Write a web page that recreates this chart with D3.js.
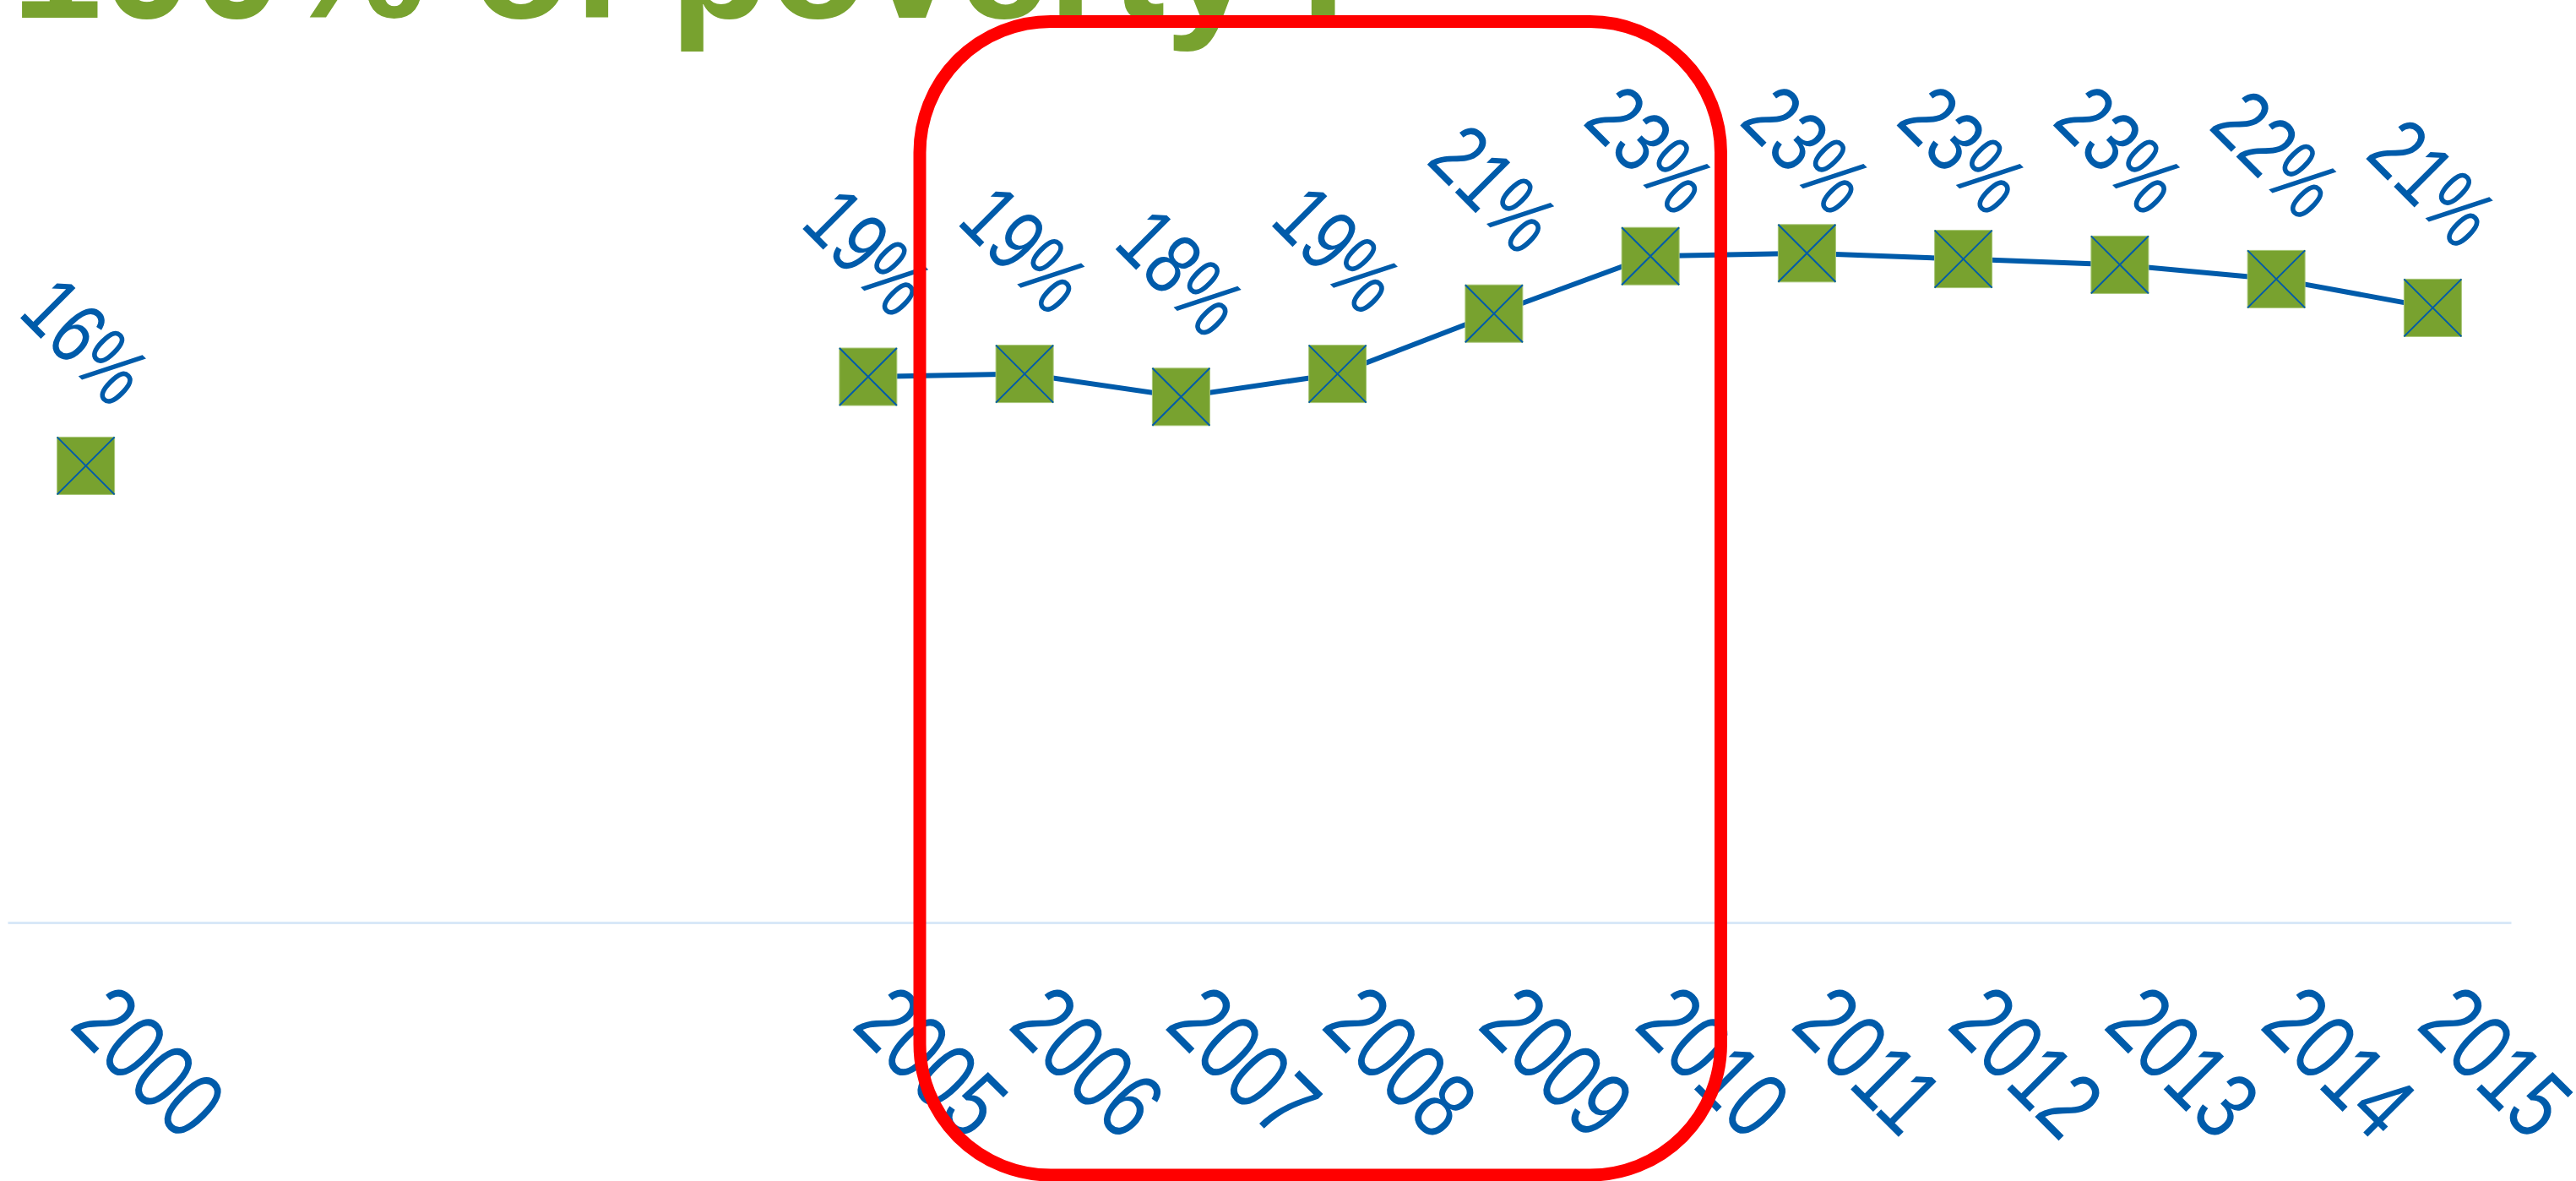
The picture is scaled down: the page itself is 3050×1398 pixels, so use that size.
<!DOCTYPE html>
<html>
<head>
<meta charset="utf-8">
<script src="https://cdn.jsdelivr.net/npm/d3@7"></script>
<style>
  html, body { margin: 0; padding: 0; background: #fff; overflow: hidden; }
  svg { display: block; }
</style>
</head>
<body>
<svg id="chart" width="3050" height="1398"></svg>
<script>
// data (share below 100% of poverty)
const years = [2000, 2001, 2002, 2003, 2004, 2005, 2006, 2007, 2008, 2009, 2010, 2011, 2012, 2013, 2014, 2015];
const rates = [0.159, null, null, null, null, 0.190, 0.191, 0.183, 0.191, 0.212, 0.232, 0.233, 0.231, 0.229, 0.224, 0.214];
const titleText = '100% of poverty I';
const highlightYears = [2005.33, 2010.45];

const option = {
  plot: {left: 9, right: 2973, top: 72, bottom: 1092},
  blue: '#005BAA',
  green: '#78A22F',
  labelTop: 98,
  textStretch: 'scale(0.94, 1.22)'
};

const points = years.map((year, i) => ({year: year, value: rates[i]}));
const known = points.filter(p => p.value != null);

const svg = d3.select('#chart');

const xScale = d3.scaleLinear()
  .domain([d3.min(years) - 0.5, d3.max(years) + 0.5])
  .range([option.plot.left, option.plot.right]);
const yScale = d3.scaleLinear()
  .domain([0, 0.30])
  .range([option.plot.bottom, option.plot.top]);

// title, cut off by the top of the slide
svg.append('text')
  .attr('x', 14)
  .attr('y', 21)
  .style('font-family', 'Liberation Sans, Arial, sans-serif')
  .style('font-weight', 'bold')
  .style('font-size', '192px')
  .style('fill', option.green)
  .text(titleText);

// x axis
const xAxis = svg.append('g')
  .attr('class', 'x axis')
  .attr('transform', `translate(0, ${option.plot.bottom})`)
  .call(d3.axisBottom(xScale)
    .tickValues(known.map(p => p.year))
    .tickSize(0)
    .tickSizeOuter(0)
    .tickFormat(d3.format('d')));

xAxis.select('.domain')
  .attr('stroke', '#D8E8F8')
  .attr('stroke-width', 3);

xAxis.selectAll('text')
  .attr('x', 0)
  .attr('y', 0)
  .attr('dy', 0)
  .attr('text-anchor', 'start')
  .attr('transform', `translate(-22, 124) rotate(45) ${option.textStretch}`)
  .style('font-family', 'Liberation Sans, Arial, sans-serif')
  .style('font-size', '93px')
  .style('fill', option.blue);

// line, broken where years are missing
const line = d3.line()
  .defined(p => p.value != null)
  .x(p => xScale(p.year))
  .y(p => yScale(p.value));

svg.append('path')
  .datum(points)
  .attr('class', 'line')
  .attr('d', line)
  .attr('fill', 'none')
  .attr('stroke', option.blue)
  .attr('stroke-width', 6);

// markers: green square with a blue cross
const half = 34;
const markers = svg.selectAll('.marker')
  .data(known)
  .enter()
  .append('g')
    .attr('class', 'marker')
    .attr('transform', p => `translate(${xScale(p.year)}, ${yScale(p.value)})`);

markers.append('rect')
  .attr('x', -half)
  .attr('y', -half)
  .attr('width', half * 2)
  .attr('height', half * 2)
  .attr('fill', option.green)
  .attr('stroke', '#A9C77A')
  .attr('stroke-width', 1);

markers.append('path')
  .attr('d', `M${-half},${-half}L${half},${half}M${half},${-half}L${-half},${half}`)
  .attr('stroke', option.blue)
  .attr('stroke-width', 2);

// data labels above each point, kept inside the chart top
const labelHalf = 79;
svg.selectAll('.label')
  .data(known)
  .enter()
  .append('text')
    .attr('class', 'label')
    .attr('text-anchor', 'middle')
    .attr('dominant-baseline', 'central')
    .attr('transform', p => {
      const cy = Math.max(yScale(p.value) - 148, option.labelTop + labelHalf);
      return `translate(${xScale(p.year)}, ${cy}) rotate(45) ${option.textStretch}`;
    })
    .style('font-family', 'Liberation Sans, Arial, sans-serif')
    .style('font-size', '85px')
    .style('fill', option.blue)
    .text(p => d3.format('.0%')(p.value));

// red highlight box
svg.append('rect')
  .attr('x', xScale(highlightYears[0]))
  .attr('y', 25.5)
  .attr('width', xScale(highlightYears[1]) - xScale(highlightYears[0]))
  .attr('height', 1391 - 25.5)
  .attr('rx', 155)
  .attr('ry', 155)
  .attr('fill', 'none')
  .attr('stroke', '#FF0000')
  .attr('stroke-width', 15);
</script>
</body>
</html>
